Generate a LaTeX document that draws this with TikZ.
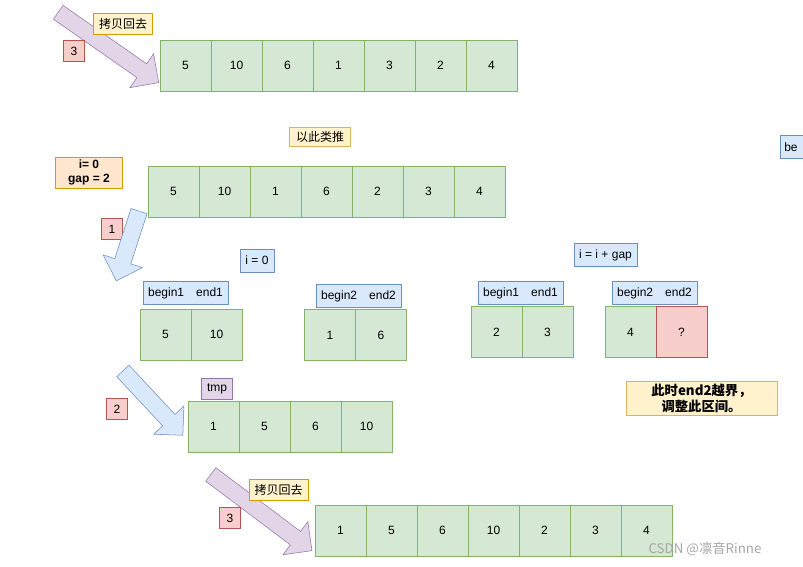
\documentclass[tikz,border=0pt]{standalone}
\usepackage{fontspec}
\setmainfont{Liberation Sans}
\newfontfamily\cjk{Noto Sans CJK SC}
\usetikzlibrary{shapes.arrows}
\definecolor{gF}{HTML}{D5E8D4}\definecolor{gS}{HTML}{82B366}
\definecolor{bF}{HTML}{DAE8FC}\definecolor{bS}{HTML}{6C8EBF}
\definecolor{rF}{HTML}{F8CECC}\definecolor{rS}{HTML}{B85450}
\definecolor{oF}{HTML}{FFE6CC}\definecolor{oS}{HTML}{D79B00}
\definecolor{yF}{HTML}{FFF2CC}\definecolor{yS}{HTML}{D6B656}
\definecolor{pF}{HTML}{E1D5E7}\definecolor{pS}{HTML}{9673A6}
\tikzset{
 cell/.style={draw=gS,fill=gF,minimum width=38.2pt,minimum height=38pt,inner sep=0,font=\small},
 redcell/.style={cell,draw=rS,fill=rF},
 bluelab/.style={draw=bS,fill=bF,inner xsep=4pt,inner ysep=2pt,minimum height=17pt,font=\small},
 numbox/.style={draw=rS,fill=rF,minimum width=16pt,minimum height=16pt,inner sep=0,font=\small},
 orlab/.style={draw=oS,fill=yF,inner xsep=4pt,inner ysep=2pt,minimum height=16pt,font=\small\cjk},
 yellab/.style={draw=yS,fill=yF,inner xsep=5pt,inner ysep=3pt,font=\small\cjk},
 fatarrow/.style={single arrow,draw,inner xsep=0,inner ysep=6pt,minimum width=31pt,single arrow head extend=9pt,single arrow head indent=0pt},
 parrow/.style={fatarrow,draw=pS,fill=pF},
 barrow/.style={fatarrow,draw=bS,fill=bF},
}
\newcommand\cellrow[4]{% name, x, y, list
 \foreach \v [count=\k] in {#4}{\node[cell] (#1\k) at ({#2+(\k-1)*51},#3) {\v};}}
\begin{document}
\begin{tikzpicture}[x=0.75pt,y=-0.75pt]
\useasboundingbox (0,0) rectangle (803,567);
\fill[white] (0,0) rectangle (803,567);
% top
\node[parrow,minimum height=92pt,rotate=-35] (a1) at (105,45) {};
\node[orlab] (l1) at (123,24) {拷贝回去};
\node[numbox] (n1) at (74,51) {3};
\cellrow{r}{185.5}{65.5}{5,10,6,1,3,2,4}
\node[yellab] (l2) at (320,137) {以此类推};
\begin{scope}
\clip (0,0) rectangle (803,567);
\node[draw=bS,fill=bF,anchor=west,minimum height=17pt,inner xsep=3pt,text width=40pt,align=left,font=\small] (be) at (780,147) {be};
\end{scope}
\node[draw=oS,fill=oF,font=\small\bfseries,align=center,inner sep=2pt,minimum width=50pt] (ig) at (89,172.5) {i= 0\\gap = 2};
\cellrow{s}{173.5}{191.5}{5,10,1,6,2,3,4}
\node[numbox] (n2) at (112,229) {1};
\node[barrow,minimum height=55pt,rotate=-108] (a2) at (129,242) {};
\node[bluelab] (i0) at (257,260.5) {i = 0};
\node[bluelab] (b1) at (185.5,293) {begin1\quad end1};
\cellrow{t}{165.5}{334.5}{5,10}
\node[bluelab] (b2) at (358.5,296) {begin2\quad end2};
\cellrow{u}{330}{335}{1,6}
\node[bluelab] (ig2) at (605.5,255) {i = i + gap};
\node[bluelab] (b3) at (520.5,293) {begin1\quad end1};
\cellrow{v}{496.5}{332}{2,3}
\node[bluelab] (b4) at (654.5,293) {begin2\quad end2};
\node[cell] (w1) at (630.5,332) {4};
\node[redcell] (w2) at (681.5,332) {?};
\node[yellab,font=\cjk\bfseries,align=center,inner sep=2pt,minimum width=113pt] (note) at (701.5,398.5) {此时end2越界，\\调整此区间。};
\node[barrow,minimum height=66pt,rotate=-47] (a3) at (150,400) {};
\node[numbox] (n3) at (117,409) {2};
\node[draw=pS,fill=pF,inner xsep=4pt,inner ysep=2pt,minimum height=16pt,font=\small] (tmp) at (217,388.5) {tmp};
\cellrow{x}{213.5}{426.5}{1,5,6,10}
\node[parrow,minimum height=95pt,rotate=-37] (a4) at (258,510) {};
\node[orlab] (l3) at (278.5,490) {拷贝回去};
\node[numbox] (n4) at (230,518) {3};
\cellrow{y}{340.5}{530.5}{1,5,6,10,2,3,4}
\node[font=\cjk,text=gray!70] (wm) at (705,549) {CSDN @凛音Rinne};
\end{tikzpicture}
\end{document}
